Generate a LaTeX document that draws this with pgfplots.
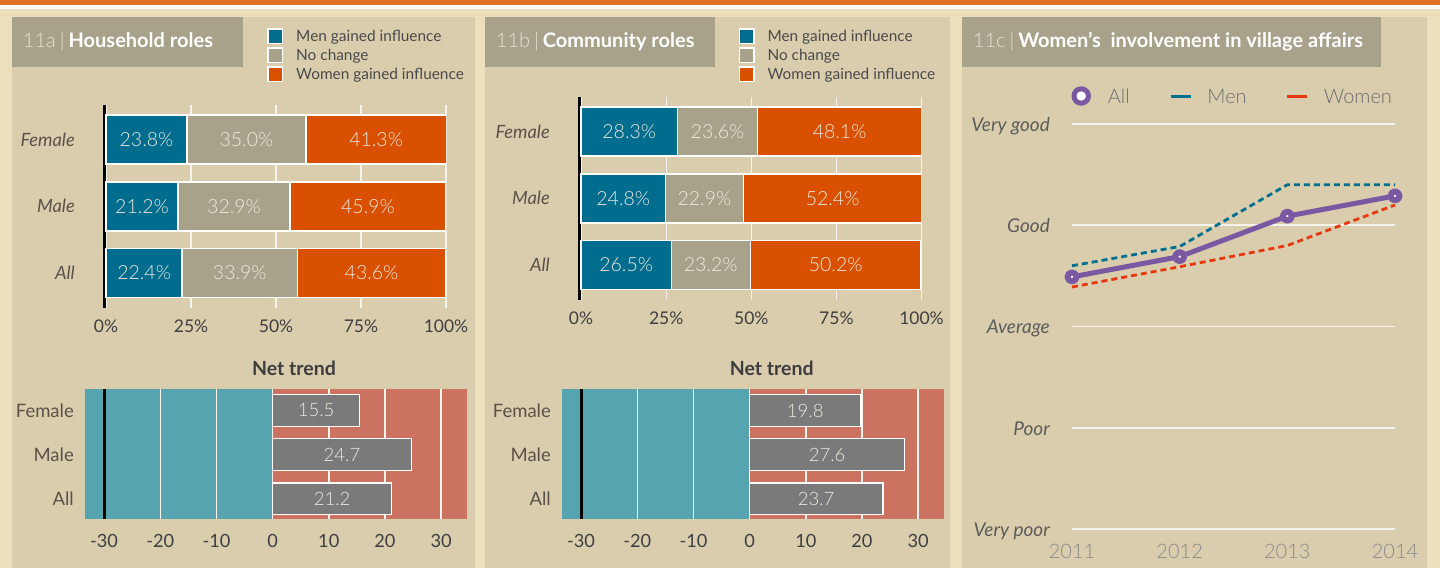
\documentclass[border=0pt]{standalone}
\usepackage{fontspec}
\setmainfont{Lato}
\newfontfamily\latolight{Lato Light}
\usepackage{pgfplots}
\pgfplotsset{compat=1.18}

\definecolor{orangebar}{HTML}{E07328}
\definecolor{creambg}{HTML}{EBDFBC}
\definecolor{panelbg}{HTML}{D9CDAE}
\definecolor{titlebox}{HTML}{A9A28A}
\definecolor{titlelight}{HTML}{E6E1D3}
\definecolor{menc}{HTML}{006C8E}
\definecolor{noch}{HTML}{A9A28A}
\definecolor{womc}{HTML}{D95000}
\definecolor{tealbg}{HTML}{57A4B1}
\definecolor{salmonbg}{HTML}{CC7260}
\definecolor{netgray}{HTML}{7A7A7A}
\definecolor{purp}{HTML}{7B58A2}
\definecolor{menl}{HTML}{00708F}
\definecolor{woml}{HTML}{E8380F}
\definecolor{lbl}{HTML}{EEEAE0}
\definecolor{ytl}{HTML}{5A5248}
\definecolor{xtl}{HTML}{3F3F3F}
\definecolor{legtxt}{HTML}{4A4A4A}
\definecolor{nettitle}{HTML}{3D3D3D}
\definecolor{gridw}{HTML}{F6F3EC}
\definecolor{lineytl}{HTML}{5C5C58}
\definecolor{linextl}{HTML}{8A8A8A}
\definecolor{linelegc}{HTML}{6E6E6E}

\newcommand{\fs}[1]{\fontsize{#1}{#1}\selectfont}

\pgfplotsset{
  stackbar/.style={
    scale only axis, width=342pt, height=203pt,
    xmin=-0.6, xmax=100, ymin=-0.524, ymax=2.517,
    axis y line*=left, axis x line*=bottom,
    x axis line style={draw=none},
    y axis line style={line width=3pt, black},
    tick style={draw=none},
    xtick={0,25,50,75,100},
    xticklabels={0\%,25\%,50\%,75\%,100\%},
    ytick={0,1,2}, yticklabels={All,Male,Female},
    xmajorgrids, grid style={gridw, line width=1.3pt},
    xticklabel style={anchor=center, inner sep=0pt, yshift=-18.5pt, font=\fs{17.5}, text=xtl},
    yticklabel style={anchor=east, inner sep=0pt, xshift=-29pt, font=\fs{18.3}\itshape, text=ytl},
    xbar stacked, bar width=0.734,
    every axis plot/.append style={draw=white, line width=1.5pt},
    legend image code/.code={\path[draw=none, fill=none] (0pt,0pt) -- (29pt,0pt);
      \draw[##1, draw=white, line width=1.5pt] (0.75pt,-7.25pt) rectangle (15.25pt,7.25pt);},
    legend style={draw=none, fill=none, inner sep=0pt, row sep=3pt, column sep=0pt,
      font=\fs{15.4}, text=legtxt, nodes={inner sep=0pt, text depth=0pt}, cells={anchor=west}},
    legend cell align=left,
  },
  stacklabels/.style={
    scale only axis, width=342pt, height=203pt,
    xmin=-0.6, xmax=100, ymin=-0.524, ymax=2.517,
    hide axis, clip=false,
  },
  vallabel/.style={draw=none, mark=none, nodes near coords, point meta=explicit symbolic,
    every node near coord/.append style={anchor=center, inner sep=0pt, font=\fs{#1}\latolight, text=lbl}},
  netaxis/.style={
    scale only axis, width=382pt, height=130pt,
    xmin=-33.4, xmax=34.6, ymin=-0.46, ymax=2.487,
    axis line style={draw=none}, tick style={draw=none},
    xtick={-20,-10,0,10,20,30}, xticklabels={-20,-10,0,10,20,30},
    extra x ticks={-30}, extra x tick labels={-30},
    extra x tick style={major grid style={black, line width=3pt}},
    ytick={0,1,2}, yticklabels={All,Male,Female},
    xmajorgrids, grid style={gridw, line width=1.5pt},
    xticklabel style={anchor=center, inner sep=0pt, yshift=-22pt, font=\fs{18.2}, text=xtl},
    yticklabel style={anchor=east, inner sep=0pt, xshift=-11pt, font=\fs{18.5}, text=ytl},
    title={Net trend},
    every axis title/.style={at={(#1,1)}, anchor=base, yshift=13pt, inner sep=0pt,
      font=\fs{19.5}\bfseries, text=nettitle},
  },
}

\begin{document}
\begin{tikzpicture}
% ---------- backgrounds ----------
\fill[creambg] (0,0) rectangle (1440pt,568pt);
\fill[orangebar] (0,562.5pt) rectangle (1440pt,568pt);
\fill[white] (0,559pt) rectangle (1440pt,562.5pt);
\fill[panelbg] (12pt,0) rectangle (475pt,551pt);
\fill[panelbg] (485pt,0) rectangle (950pt,551pt);
\fill[panelbg] (962pt,0) rectangle (1427pt,551pt);
\fill[titlebox] (12pt,501pt) rectangle (243pt,551pt);
\fill[titlebox] (485pt,501pt) rectangle (715pt,551pt);
\fill[titlebox] (962pt,501pt) rectangle (1381pt,551pt);
\node[anchor=base west, inner sep=0pt, text=white, font=\fs{20}] at (22.7pt,520.3pt)
  {{\latolight\color{titlelight}11a}\hspace{4pt}{\latolight\color{titlelight}|}\hspace{4pt}\textbf{Household roles}};
\node[anchor=base west, inner sep=0pt, text=white, font=\fs{20}] at (495.7pt,520.3pt)
  {{\latolight\color{titlelight}11b}\hspace{4pt}{\latolight\color{titlelight}|}\hspace{4pt}\textbf{Community roles}};
\node[anchor=base west, inner sep=0pt, text=white, font=\fs{20}] at (972.7pt,520.3pt)
  {{\latolight\color{titlelight}11c}\hspace{4pt}{\latolight\color{titlelight}|}\hspace{4pt}\textbf{Women’s~ involvement in village affairs}};
% net trend background halves
\fill[tealbg] (85pt,49pt) rectangle (271.9pt,179pt);
\fill[salmonbg] (273.3pt,49pt) rectangle (467pt,179pt);
\fill[tealbg] (562pt,49pt) rectangle (748.9pt,179pt);
\fill[salmonbg] (750.3pt,49pt) rectangle (944pt,179pt);

% ---------- 11a stacked ----------
\begin{axis}[stackbar, at={(104pt,260pt)}, anchor=south west,
  legend style={at={(axis description cs:0.4766,1.3793)}, anchor=north west}]
\addplot[fill=menc] coordinates {(22.4,0) (21.2,1) (23.8,2)};
\addlegendentry{Men gained influence}
\addplot[fill=noch] coordinates {(33.9,0) (32.9,1) (35.0,2)};
\addlegendentry{No change}
\addplot[fill=womc] coordinates {(43.6,0) (45.9,1) (41.3,2)};
\addlegendentry{Women gained influence}
\end{axis}
\begin{axis}[stacklabels, at={(104pt,260pt)}, anchor=south west]
\addplot[vallabel=19.5] coordinates {
 (11.2,0) [22.4\%] (39.35,0) [33.9\%] (78.1,0) [43.6\%]
 (10.6,1) [21.2\%] (37.65,1) [32.9\%] (77.05,1) [45.9\%]
 (11.9,2) [23.8\%] (41.3,2) [35.0\%] (79.45,2) [41.3\%]};
\end{axis}

% ---------- 11b stacked ----------
\begin{axis}[stackbar, width=342.5pt, at={(579pt,268pt)}, anchor=south west,
  legend style={at={(axis description cs:0.4651,1.3399)}, anchor=north west}]
\addplot[fill=menc] coordinates {(26.5,0) (24.8,1) (28.3,2)};
\addlegendentry{Men gained influence}
\addplot[fill=noch] coordinates {(23.2,0) (22.9,1) (23.6,2)};
\addlegendentry{No change}
\addplot[fill=womc] coordinates {(50.2,0) (52.4,1) (48.1,2)};
\addlegendentry{Women gained influence}
\end{axis}
\begin{axis}[stacklabels, width=342.5pt, at={(579pt,268pt)}, anchor=south west]
\addplot[vallabel=19.5] coordinates {
 (13.25,0) [26.5\%] (38.1,0) [23.2\%] (74.8,0) [50.2\%]
 (12.4,1) [24.8\%] (36.25,1) [22.9\%] (73.9,1) [52.4\%]
 (14.15,2) [28.3\%] (40.1,2) [23.6\%] (75.95,2) [48.1\%]};
\end{axis}

% ---------- 11a net trend ----------
\begin{axis}[netaxis=0.547, at={(85pt,49pt)}, anchor=south west]
\addplot[xbar, bar width=0.72, fill=netgray, draw=white, line width=1.5pt]
  coordinates {(21.2,0) (24.7,1) (15.5,2)};
\addplot[vallabel=18.5] coordinates {(10.6,0) [21.2] (12.35,1) [24.7] (7.75,2) [15.5]};
\end{axis}

% ---------- 11b net trend ----------
\begin{axis}[netaxis=0.549, at={(562pt,49pt)}, anchor=south west]
\addplot[xbar, bar width=0.72, fill=netgray, draw=white, line width=1.5pt]
  coordinates {(23.7,0) (27.6,1) (19.8,2)};
\addplot[vallabel=18.5] coordinates {(11.85,0) [23.7] (13.8,1) [27.6] (9.9,2) [19.8]};
\end{axis}

% ---------- 11c line chart ----------
\begin{axis}[scale only axis, width=323pt, height=405pt,
  at={(1072pt,39pt)}, anchor=south west,
  xmin=2011, xmax=2014, ymin=1, ymax=5, clip=false,
  axis line style={draw=none}, tick style={draw=none},
  xtick={2011,2012,2013,2014}, xticklabels={2011,2012,2013,2014},
  ytick={1,2,3,4,5}, yticklabels={Very poor,Poor,Average,Good,Very good},
  ymajorgrids, grid style={gridw, line width=1.5pt},
  xticklabel style={anchor=center, inner sep=0pt, yshift=-22pt, font=\fs{20}\latolight, text=linextl},
  yticklabel style={anchor=base east, inner sep=0pt, xshift=-22pt, yshift=-7.3pt, font=\fs{19}\itshape, text=lineytl},
  legend columns=3,
  legend style={at={(axis description cs:-0.0031,1.0691)}, anchor=west, draw=none, fill=none,
    inner sep=0pt, column sep=0pt, font=\fs{20}\latolight, text=linelegc,
    nodes={inner sep=0pt, text depth=0pt}, cells={anchor=west}},
  legend cell align=left]
\addlegendimage{legend image code/.code={\path[draw=none, fill=none] (0pt,0pt) -- (36.7pt,0pt);
  \draw[purp, line width=5pt, fill=white] (10pt,0pt) circle (7.2pt);}}
\addlegendentry{\makebox[61.3pt][l]{All}}
\addplot[menl, line width=2.8pt, dash pattern=on 6pt off 4pt,
  legend image code/.code={\path[draw=none, fill=none] (0pt,0pt) -- (36.7pt,0pt);
  \draw[menl, line width=3pt, solid] (0pt,0pt) -- (20pt,0pt);}]
  coordinates {(2011,3.60) (2012,3.79) (2013,4.40) (2014,4.40)};
\addlegendentry{\makebox[78.3pt][l]{Men}}
\addplot[woml, line width=2.8pt, dash pattern=on 6pt off 4pt,
  legend image code/.code={\path[draw=none, fill=none] (0pt,0pt) -- (36.7pt,0pt);
  \draw[woml, line width=3pt, solid] (0pt,0pt) -- (20pt,0pt);}]
  coordinates {(2011,3.39) (2012,3.59) (2013,3.80) (2014,4.20)};
\addlegendentry{Women}
\addplot[purp, line width=5pt, line join=round, mark=*, mark size=4.5pt,
  mark options={fill=white, draw=purp, line width=6pt, solid}, forget plot]
  coordinates {(2011,3.49) (2012,3.69) (2013,4.09) (2014,4.29)};
\end{axis}

\pgfresetboundingbox
\useasboundingbox (0,0) rectangle (1440pt,568pt);
\end{tikzpicture}
\end{document}
